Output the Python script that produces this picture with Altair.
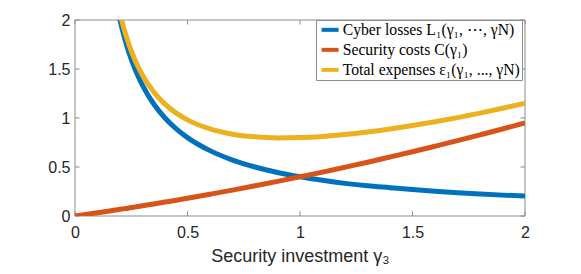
import altair as alt
import pandas as pd

# --- data ---
x_vals = [0.18, 0.2, 0.22, 0.24, 0.26, 0.28, 0.3, 0.35, 0.4, 0.45, 0.5, 0.6, 0.7, 0.8,
          0.9, 1.0, 1.1, 1.2, 1.3, 1.4, 1.5, 1.6, 1.7, 1.8, 1.9, 2.0]
losses = [2.22, 2.0, 1.818, 1.667, 1.538, 1.429, 1.333, 1.143, 1.0, 0.889, 0.8, 0.667, 0.571, 0.5,
          0.444, 0.4, 0.364, 0.333, 0.308, 0.289, 0.27, 0.253, 0.238, 0.225, 0.213, 0.203]
x_cost = [0.0, 0.1, 0.18, 0.2, 0.22, 0.24, 0.26, 0.28, 0.3, 0.35, 0.4, 0.45, 0.5, 0.6, 0.7, 0.8,
          0.9, 1.0, 1.1, 1.2, 1.3, 1.4, 1.5, 1.6, 1.7, 1.8, 1.9, 2.0]
costs = [0.0, 0.033, 0.061, 0.068, 0.075, 0.082, 0.090, 0.097, 0.104, 0.123, 0.142, 0.161, 0.181,
         0.222, 0.264, 0.308, 0.353, 0.4, 0.448, 0.498, 0.549, 0.602, 0.656, 0.712, 0.769, 0.828,
         0.888, 0.95]
total = [2.28, 2.068, 1.893, 1.749, 1.628, 1.526, 1.437, 1.266, 1.142, 1.05, 0.981, 0.889, 0.835,
         0.808, 0.797, 0.8, 0.812, 0.831, 0.857, 0.888, 0.923, 0.962, 1.004, 1.05, 1.099, 1.15]

series_names = ["Cyber losses L\u2081(\u03b3\u2081, \u22ef, \u03b3N)",
                "Security costs C(\u03b3\u2081)",
                "Total expenses \u03b5\u2081(\u03b3\u2081, ..., \u03b3N)"]
series_colors = ["#0072BD", "#D95319", "#EDB120"]

x_ticks = [0, 0.5, 1, 1.5, 2]
y_ticks = [0, 0.5, 1, 1.5, 2]

df_l = pd.DataFrame({"x": x_vals, "y": losses, "s": series_names[0]})
df_c = pd.DataFrame({"x": x_cost, "y": costs, "s": series_names[1]})
df_t = pd.DataFrame({"x": x_vals, "y": total, "s": series_names[2]})

W, H = 450, 196
GRAY = "#8c8c8c"

xs = alt.Scale(domain=[0, 2], nice=False)
ys = alt.Scale(domain=[0, 2], nice=False)

color = alt.Color(
    "s:N",
    scale=alt.Scale(domain=series_names, range=series_colors),
    sort=series_names,
    legend=alt.Legend(
        title=None, orient="none", legendX=241, legendY=0,
        symbolType="M-1,0H3", symbolSize=72, symbolStrokeWidth=4,
        labelFont="Liberation Serif", labelFontSize=15.7, labelColor="#000000",
        labelLimit=400, strokeColor=GRAY, fillColor="#ffffff",
        padding=2, rowPadding=3, labelOffset=9, cornerRadius=0,
    ),
)

x_axis = alt.Axis(values=x_ticks, grid=False, ticks=False, domain=False, format=".1~f",
                  labelFont="Liberation Sans", labelFontSize=16, labelColor="#262626",
                  labelPadding=8, title="Security investment \u03b3\u2083",
                  titleFont="Liberation Sans", titleFontSize=18, titleFontWeight="normal",
                  titleColor="#262626", titlePadding=7, labelFlush=False)
y_axis = alt.Axis(values=y_ticks, grid=False, ticks=False, domain=False, format=".1~f",
                  labelFont="Liberation Sans", labelFontSize=16, labelColor="#262626",
                  labelPadding=5, title=None, labelFlush=False)

X = lambda f: alt.X(f, scale=xs, axis=x_axis)
Y = lambda f: alt.Y(f, scale=ys, axis=y_axis)


def line(df):
    return alt.Chart(df).mark_line(strokeWidth=5, clip=True, interpolate="monotone").encode(
        x=X("x:Q"), y=Y("y:Q"), color=color,
    )

tick_x_df = pd.DataFrame({"t": x_ticks})
tick_y_df = pd.DataFrame({"t": y_ticks})
ticks_bottom = alt.Chart(tick_x_df).mark_rule(color=GRAY, strokeWidth=1).encode(
    x=X("t:Q"), y=alt.value(H), y2=alt.value(H - 4.5))
ticks_top = alt.Chart(tick_x_df).mark_rule(color=GRAY, strokeWidth=1).encode(
    x=X("t:Q"), y=alt.value(0), y2=alt.value(4.5))
ticks_left = alt.Chart(tick_y_df).mark_rule(color=GRAY, strokeWidth=1).encode(
    y=Y("t:Q"), x=alt.value(0), x2=alt.value(4.5))
ticks_right = alt.Chart(tick_y_df).mark_rule(color=GRAY, strokeWidth=1).encode(
    y=Y("t:Q"), x=alt.value(W), x2=alt.value(W - 4.5))

# axes box (MATLAB "box on")
box_df = pd.DataFrame({"k": [0]})
box = [
    alt.Chart(box_df).mark_rule(color=GRAY, strokeWidth=1).encode(
        x=alt.value(0), x2=alt.value(W), y=alt.value(0)),
    alt.Chart(box_df).mark_rule(color=GRAY, strokeWidth=1).encode(
        x=alt.value(0), x2=alt.value(W), y=alt.value(H)),
    alt.Chart(box_df).mark_rule(color=GRAY, strokeWidth=1).encode(
        y=alt.value(0), y2=alt.value(H), x=alt.value(0)),
    alt.Chart(box_df).mark_rule(color=GRAY, strokeWidth=1).encode(
        y=alt.value(0), y2=alt.value(H), x=alt.value(W)),
]

chart = alt.layer(
    *box,
    ticks_bottom, ticks_top, ticks_left, ticks_right,
    line(df_l), line(df_c), line(df_t),
).properties(
    width=W, height=H,
    autosize="none",
    background="#ffffff",
    padding={"left": 67, "top": 12, "right": 48, "bottom": 50},
).configure_view(stroke=None)

chart.save("out.html", embed_options={"renderer": "svg", "actions": False})
